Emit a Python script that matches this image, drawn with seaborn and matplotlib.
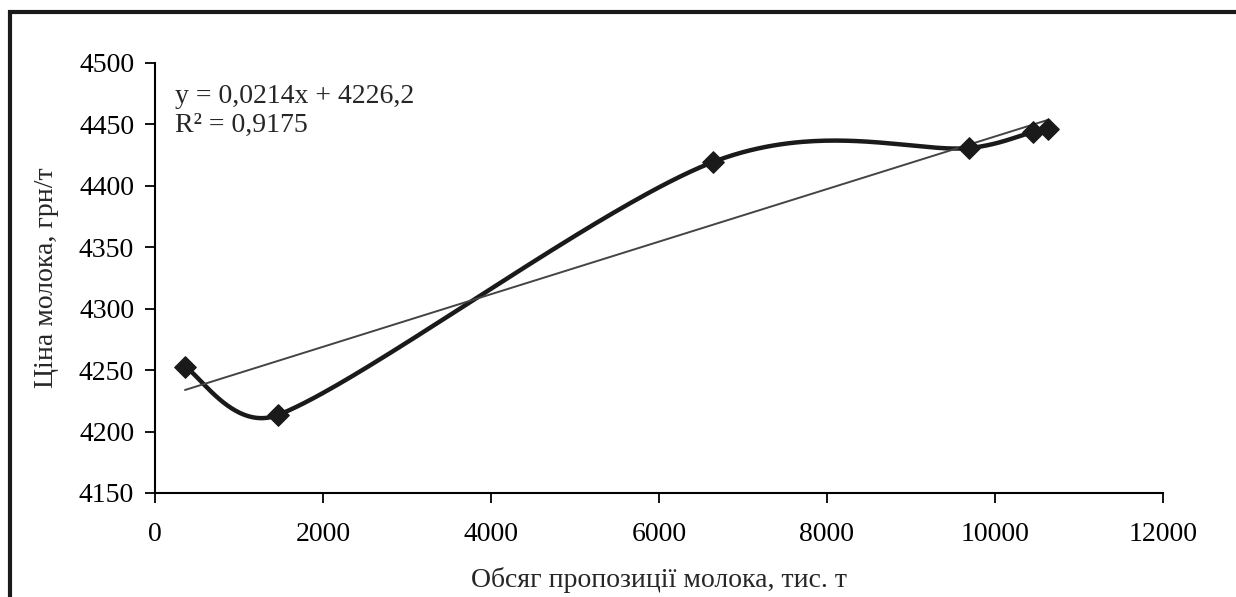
import numpy as np
import pandas as pd
import seaborn as sns
import matplotlib.pyplot as plt
from matplotlib.patches import Rectangle

# data
supply = [357, 1464, 6643, 9690, 10452, 10631]       # тис. т
price = [4252.6, 4213.5, 4419.4, 4430.8, 4443.8, 4446.0]  # грн/т
slope = 0.0214
intercept = 4226.2
eq_text = "y = 0,0214x + 4226,2"
r2_text = "R² = 0,9175"


def excel_smooth(x, y, sx, sy, clamp=0.45, n=80):
    # catmull-rom bezier in screen units, handles clamped to part of the segment
    P = np.column_stack([np.asarray(x, float) * sx, np.asarray(y, float) * sy])
    m = len(P)
    d = np.linalg.norm(np.diff(P, axis=0), axis=1)
    out_h = P.copy()
    in_h = P.copy()
    for i in range(m):
        prev = P[i - 1] if i > 0 else P[i]
        nxt = P[i + 1] if i < m - 1 else P[i]
        T = (nxt - prev) / 6
        L = np.linalg.norm(T)
        if i < m - 1:
            k = min(1, clamp * d[i] / L) if L > 0 else 0
            out_h[i] = P[i] + T * k
        if i > 0:
            k = min(1, clamp * d[i - 1] / L) if L > 0 else 0
            in_h[i] = P[i] - T * k
    t = np.linspace(0, 1, n)[:, None]
    pts = []
    for i in range(m - 1):
        a, b, c, e = P[i], out_h[i], in_h[i + 1], P[i + 1]
        pts.append((1 - t) ** 3 * a + 3 * (1 - t) ** 2 * t * b + 3 * (1 - t) * t ** 2 * c + t ** 3 * e)
    pts = np.vstack(pts)
    return pts[:, 0] / sx, pts[:, 1] / sy


sns.set_style("white")
plt.rcParams['font.family'] = ['Liberation Serif', 'DejaVu Serif']

fig = plt.figure(figsize=(12.36, 5.97), dpi=100)
ax = fig.add_axes([155 / 1236, 1 - 493 / 597, 1008 / 1236, 430 / 597])

cx, cy = excel_smooth(supply, price, 1008 / 12000, 430 / 350)
curve = pd.DataFrame({"x": cx, "y": cy})
sns.lineplot(data=curve, x="x", y="y", ax=ax, color="#1a1a1a", linewidth=3.2,
             sort=False, estimator=None)

xt = np.array([min(supply), max(supply)])
ax.plot(xt, slope * xt + intercept, color="#444444", linewidth=1.4)

pts = pd.DataFrame({"x": supply, "y": price})
sns.scatterplot(data=pts, x="x", y="y", ax=ax, marker="D", s=120, color="#1a1a1a",
                edgecolor="#1a1a1a", zorder=5)

ax.set_xlim(0, 12000)
ax.set_ylim(4150, 4500)
ax.set_xticks(np.arange(0, 12001, 2000))
ax.set_yticks(np.arange(4150, 4501, 50))
ax.tick_params(axis="both", labelsize=20, length=7, width=1.3, direction="out",
               bottom=True, left=True, colors="black", pad=8)
ax.tick_params(axis="x", pad=14)
for s in ["top", "right"]:
    ax.spines[s].set_visible(False)
for s in ["left", "bottom"]:
    ax.spines[s].set_color("black")
    ax.spines[s].set_linewidth(1.5)

ax.set_xlabel("Обсяг пропозиції молока, тис. т", fontsize=20, labelpad=14)
ax.set_ylabel("Ціна молока, грн/т", fontsize=20, labelpad=14)

ax.text(0.02, 0.95, eq_text, transform=ax.transAxes, fontsize=20, va="top", ha="left")
ax.text(0.02, 0.883, r2_text, transform=ax.transAxes, fontsize=20, va="top", ha="left")

# document frame around the chart
fig.add_artist(Rectangle((10 / 1236, -0.1), 1.2, 1 - 12 / 597 + 0.1,
                         transform=fig.transFigure, fill=False,
                         edgecolor="#1a1a1a", linewidth=3))

fig.savefig("out.png", dpi=100)
